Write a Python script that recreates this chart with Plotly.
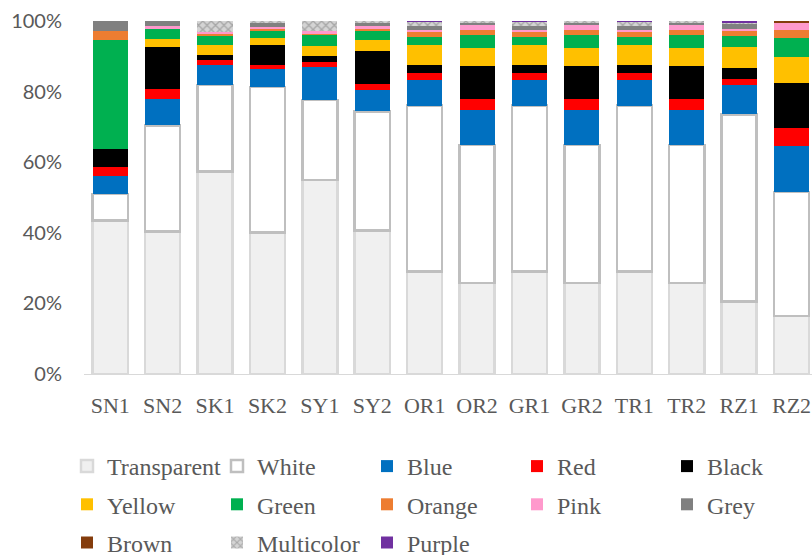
import plotly.graph_objects as go

# Sample sites (two samples per location)
categories = ["SN1", "SN2", "SK1", "SK2", "SY1", "SY2", "OR1", "OR2",
              "GR1", "GR2", "TR1", "TR2", "RZ1", "RZ2"]

# Share of particles by colour (%), stacked bottom to top
transparent = [43.5, 40.3, 57.4, 40.3, 55.1, 40.6, 29.0, 25.8, 29.0, 25.8, 29.0, 25.8, 20.5, 16.5]
white       = [7.5, 30.0, 24.5, 41.3, 22.7, 33.8, 47.0, 39.1, 47.0, 39.1, 47.0, 39.1, 52.9, 35.1]
blue        = [5.1, 7.4, 5.7, 5.2, 9.5, 6.1, 7.2, 9.8, 7.2, 9.8, 7.2, 9.8, 8.2, 13.0]
red         = [2.6, 2.8, 1.4, 1.1, 1.4, 1.7, 2.1, 3.2, 2.1, 3.2, 2.1, 3.2, 1.7, 5.1]
black       = [5.1, 11.9, 1.4, 5.7, 1.7, 9.3, 2.2, 9.4, 2.2, 9.4, 2.2, 9.4, 3.1, 12.7]
yellow      = [0.0, 2.2, 2.8, 2.0, 2.8, 3.1, 5.7, 5.1, 5.7, 5.1, 5.7, 5.1, 6.0, 7.4]
green       = [30.8, 2.9, 2.8, 2.1, 3.3, 2.7, 2.3, 3.6, 2.3, 3.6, 2.3, 3.6, 3.1, 5.4]
orange      = [2.7, 0.0, 0.4, 0.3, 0.2, 0.5, 1.4, 1.5, 1.4, 1.5, 1.4, 1.5, 1.4, 2.3]
pink        = [0.0, 0.8, 0.4, 0.8, 0.8, 0.9, 0.6, 1.4, 0.6, 1.4, 0.6, 1.4, 0.6, 2.1]
grey        = [2.7, 1.5, 0.0, 1.2, 0.0, 0.9, 1.2, 0.7, 1.2, 0.7, 1.2, 0.7, 1.6, 0.0]
brown       = [0.0, 0.0, 0.0, 0.0, 0.0, 0.0, 0.0, 0.0, 0.0, 0.0, 0.0, 0.0, 0.0, 0.4]
multicolor  = [0.0, 0.0, 3.2, 0.4, 2.8, 0.4, 1.1, 0.4, 1.1, 0.4, 1.1, 0.4, 0.4, 0.0]
purple      = [0.0, 0.0, 0.0, 0.0, 0.0, 0.0, 0.2, 0.0, 0.2, 0.0, 0.2, 0.0, 0.3, 0.0]

y_ticks = [0, 20, 40, 60, 80, 100]
y_tick_labels = ["0%", "20%", "40%", "60%", "80%", "100%"]

TEXT = "#595959"
SERIF = "Liberation Serif, Times New Roman, serif"

# The legend is laid out as a 5-column grid; each column is its own legend
series = [
    ("Transparent", transparent, dict(color="#f0f0f0", line=dict(color="#d9d9d9", width=2.5)), "legend"),
    ("White", white, dict(color="#ffffff", line=dict(color="#bfbfbf", width=2.5)), "legend2"),
    ("Blue", blue, dict(color="#0070c0", line=dict(width=0)), "legend3"),
    ("Red", red, dict(color="#ff0000", line=dict(width=0)), "legend4"),
    ("Black", black, dict(color="#000000", line=dict(width=0)), "legend5"),
    ("Yellow", yellow, dict(color="#ffc000", line=dict(width=0)), "legend"),
    ("Green", green, dict(color="#00b050", line=dict(width=0)), "legend2"),
    ("Orange", orange, dict(color="#ed7d31", line=dict(width=0)), "legend3"),
    ("Pink", pink, dict(color="#ff99cc", line=dict(width=0)), "legend4"),
    ("Grey", grey, dict(color="#808080", line=dict(width=0)), "legend5"),
    ("Brown", brown, dict(color="#843c0c", line=dict(width=0)), "legend"),
    ("Multicolor", multicolor, dict(color="#c0c0c0", line=dict(width=0),
                                    pattern=dict(shape="x", fgcolor="#7a7a7a",
                                                 bgcolor="#d4d4d4", size=6, solidity=0.4)), "legend2"),
    ("Purple", purple, dict(color="#7030a0", line=dict(width=0)), "legend3"),
]

fig = go.Figure()
for name, vals, marker, leg in series:
    fig.add_trace(go.Bar(x=categories, y=vals, name=name, marker=marker,
                         legend=leg, legendgroup=name))

legend_top = 1 - 444 / 555
legend_left = 67
legend_step = 150


def column_legend(i):
    return dict(
        orientation="v",
        xref="container", yref="container",
        xanchor="left", yanchor="top",
        x=(legend_left + i * legend_step) / 812, y=legend_top,
        tracegroupgap=4,
        font=dict(family=SERIF, size=24, color=TEXT),
        bgcolor="rgba(0,0,0,0)",
        traceorder="grouped",
    )


fig.update_layout(
    width=812, height=555,
    margin=dict(l=84, r=0, t=21, b=181, autoexpand=False),
    paper_bgcolor="white", plot_bgcolor="white",
    barmode="stack", barnorm="percent", bargap=0.33,
    showlegend=True,
    legend=column_legend(0),
    legend2=column_legend(1),
    legend3=column_legend(2),
    legend4=column_legend(3),
    legend5=column_legend(4),
    xaxis=dict(
        range=[-0.5, 13.39],
        showline=True, linecolor="#d9d9d9", linewidth=1,
        showgrid=False, ticks="",
        tickfont=dict(family=SERIF, size=22, color=TEXT),
        ticklabelstandoff=12, tickangle=0, automargin=False,
    ),
    yaxis=dict(
        range=[0, 100],
        tickmode="array", tickvals=y_ticks, ticktext=y_tick_labels,
        showgrid=False, zeroline=False, showline=False, ticks="",
        tickfont=dict(family="Lato, Carlito, sans-serif", size=20, color=TEXT),
        ticklabelstandoff=21, automargin=False,
    ),
)

fig.write_html("out.html")
